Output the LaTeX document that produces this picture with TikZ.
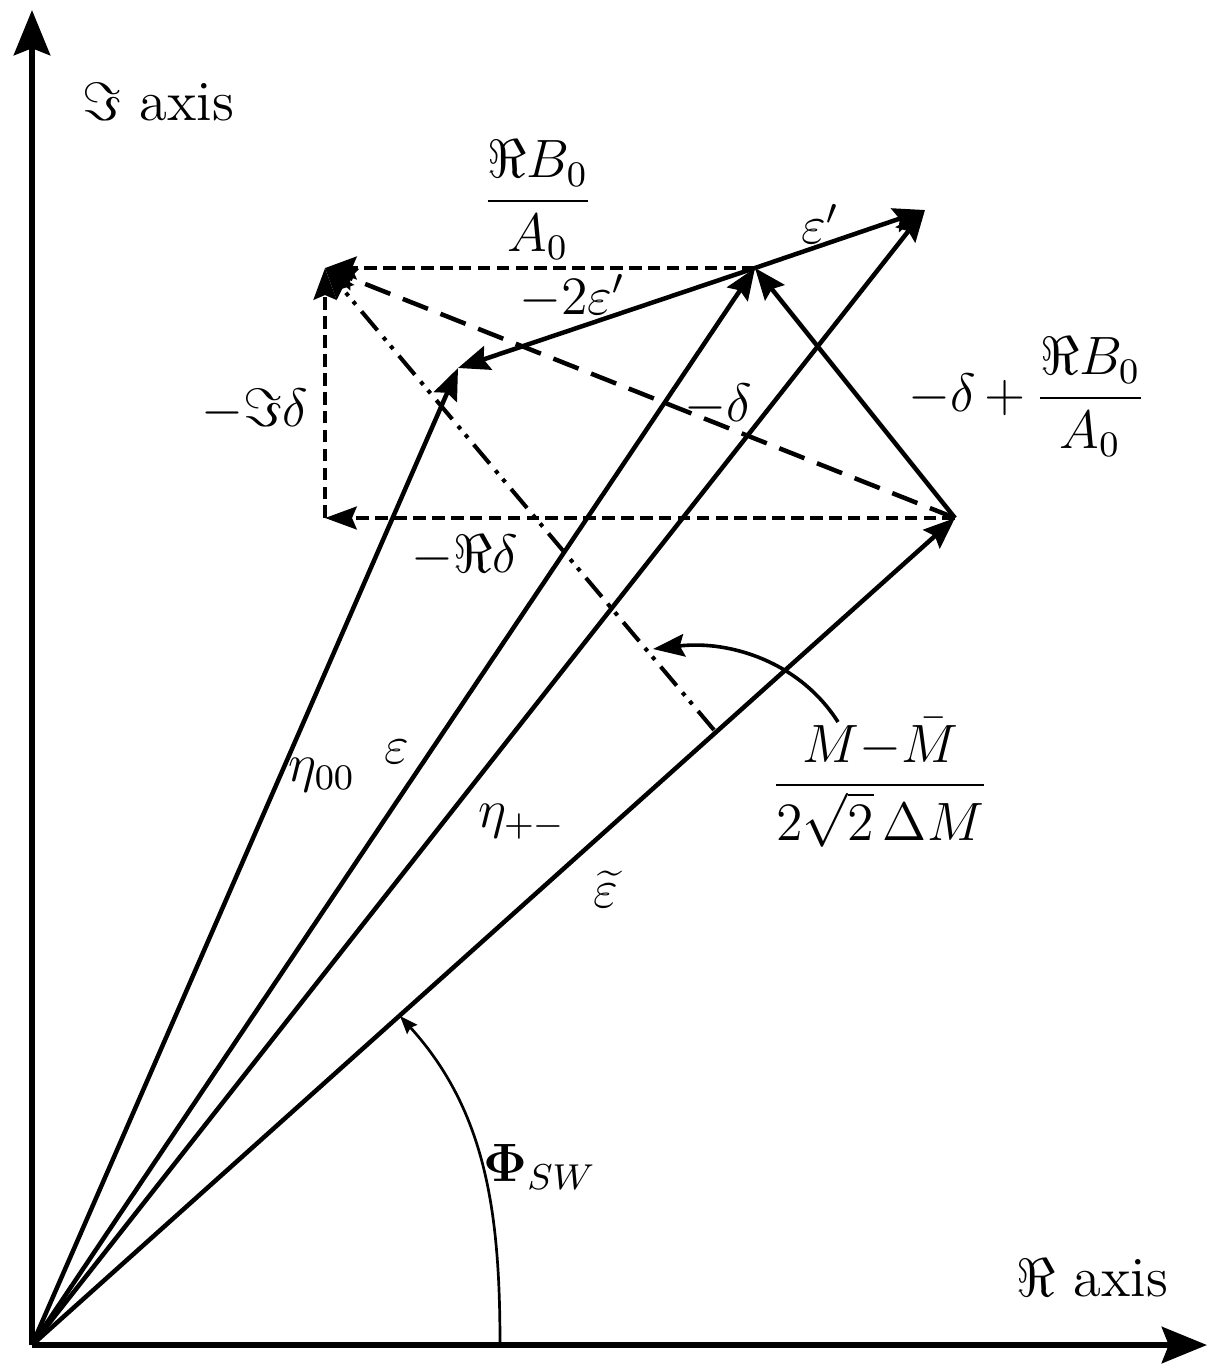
\documentclass[tikz,border=0pt]{standalone}
\usetikzlibrary{arrows.meta}
\begin{document}
\begin{tikzpicture}[x=0.2222pt,y=-0.2222pt,
  vec/.style={line width=1pt,-{Stealth[length=7pt,width=5.5pt,inset=1pt]}},
  axisline/.style={line width=1.5pt,-{Stealth[length=10pt,width=8pt,inset=1.5pt]}},
  dotline/.style={line width=1.1pt,dash pattern=on 2.8pt off 1.4pt,-{Stealth[length=7pt,width=5pt,inset=1pt]}},
  dashline/.style={line width=1pt,dash pattern=on 6pt off 3pt,-{Stealth[length=7pt,width=5pt,inset=1pt]}},
  ddline/.style={line width=0.9pt,dash pattern=on 5.5pt off 2pt on 0.9pt off 1.6pt on 0.9pt off 2pt,-{Stealth[length=7pt,width=5pt,inset=1pt]}},
  lbl/.style={inner sep=0pt,font=\fontsize{12}{14}\selectfont},
  axlbl/.style={inner sep=0pt,font=\fontsize{12.6}{15}\selectfont}]
\useasboundingbox (0,0) rectangle (1210,1366);
% points
\coordinate (O) at (32,1345);
\coordinate (Xtip) at (1207,1345);
\coordinate (Ytip) at (32,10);
\coordinate (A) at (955,518);
\coordinate (P) at (755,268);
\coordinate (Q) at (925,210);
\coordinate (R) at (458,368);
\coordinate (S) at (325,268);
\coordinate (T) at (325,518);
\coordinate (D) at (714,730);
\coordinate (Ms) at (838,722);
\coordinate (Me) at (653,649);
\coordinate (Fs) at (500,1345);
\coordinate (Fe) at (400,1016);
% axes
\draw[axisline] (O) -- (Xtip);
\draw[axisline] (O) -- (Ytip);
% vectors
\draw[vec] (O) -- (A);
\draw[vec] (O) -- (P);
\draw[vec] (O) -- (Q);
\draw[vec] (O) -- (R);
\draw[vec] (A) -- (P);
\draw[vec] (P) -- (Q);
\draw[vec] (P) -- (R);
% construction lines
\draw[dotline] (P) -- (S);
\draw[dotline] (A) -- (T);
\draw[dotline] (T) -- (S);
\draw[dashline] (A) -- (S);
\draw[ddline] (D) -- (S);
% curved arrows
\draw[line width=0.8pt,-{Stealth[length=7pt,width=5pt,inset=1pt]}] (Ms) .. controls (800,662) and (730,640) .. (Me);
\draw[line width=0.6pt,-{Stealth[length=4pt,width=3pt,inset=0.5pt]}] (Fs) .. controls (500,1215) and (487,1112) .. (Fe);
% labels
\node[axlbl] (lIm) at (158,102) {$\Im$ axis};
\node[axlbl] (lRe) at (1092,1278) {$\Re$ axis};
\node[lbl] (lReB) at (538,200) {$\displaystyle\frac{\Re B_0}{A_0}$};
\node[lbl] (lepsp) at (820,224) {$\varepsilon'$};
\node[lbl] (lm2epsp) at (572,297) {$-2\varepsilon'$};
\node[lbl] (lImd) at (255,410) {$-\Im\delta$};
\node[lbl] (lmd) at (718,405) {$-\delta$};
\node[lbl] (lmdRe) at (1027,397) {$\displaystyle-\delta\,{+}\,\frac{\Re B_0}{A_0}$};
\node[lbl] (lRed) at (465,556) {$-\Re\delta$};
\node[lbl] (lM) at (880,783) {$\displaystyle\frac{M{-}\bar{M}}{2\sqrt{2}\,\Delta M}$};
\node[lbl] (leta00) at (322,775) {$\eta_{00}$};
\node[lbl] (leps) at (397,752) {$\varepsilon$};
\node[lbl] (letapm) at (522,822) {$\eta_{+-}$};
\node[lbl] (lepst) at (606,889) {$\widetilde{\varepsilon}$};
\node[lbl] (lPhi) at (540,1167) {$\mathbf{\Phi}_{SW}$};
\end{tikzpicture}
\end{document}
